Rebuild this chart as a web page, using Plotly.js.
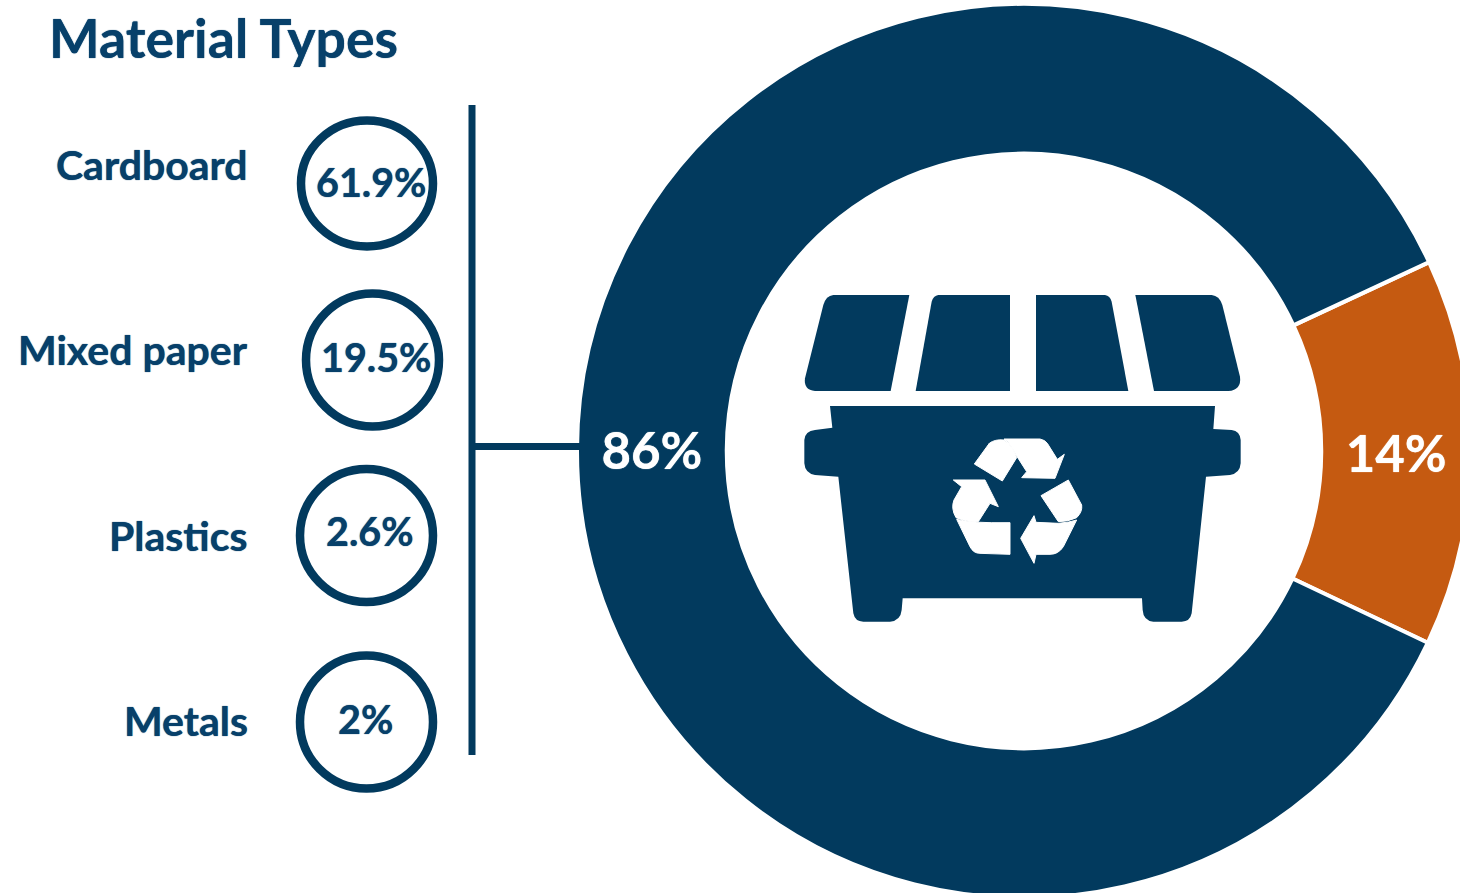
<!DOCTYPE html>
<html>
<head>
<meta charset="utf-8">
<script src="https://cdn.plot.ly/plotly-3.0.1.min.js"></script>
<style>html,body{margin:0;padding:0;background:#fff;overflow:hidden}#chart{width:1480px;height:900px}</style>
</head>
<body>
<div id="chart"></div>
<script>
const titleText = "Material Types";
const ringCategories = ["Other", "Listed materials"];
const ringValues = [14, 86];
const ringColors = ["#C55A11", "#023A5E"];
const materialCategories = ["Cardboard", "Mixed paper", "Plastics", "Metals"];
const materialValues = ["61.9%", "19.5%", "2.6%", "2%"];

const W = 1480, H = 900;
const NAVY = "#023A5E", TEXT = "#07406A";
const FONT = "Lato, Carlito, sans-serif";
const px = x => x / W, py = y => 1 - y / H;

// Layout positions (page pixels)
const CX = 1024, CY = 451, R = 447;
const labelY = [164, 350, 535, 720];
const circles = [[367,183.5,66,63],[372.5,360,66.5,66.5],[366.5,535.5,66.5,66.5],[366.5,722,66.5,66.5]];
const valuePos = [[371,182],[376,356],[370,530],[365,718]];
const textShadow = "0 0 1px #07406A";

// Icon outlines, drawn in zoomed-local coordinates
function mapPath(d, ox, oy, s) {
  return d.replace(/(-?[\d.]+),(-?[\d.]+)/g, (m, a, b) =>
    px(ox + a / s).toFixed(5) + "," + py(oy + b / s).toFixed(5));
}
const binPaths = [
  "M130,45 L358,45 L302,333 L75,333 Q40,330 45,295 L100,75 Q108,47 130,45 Z",
  "M445,45 L660,45 L660,333 L377,333 L425,65 Q430,47 445,45 Z",
  "M738,45 L945,45 Q960,47 965,65 L1015,333 L738,333 Z",
  "M1036,45 L1265,45 Q1288,47 1297,75 L1350,290 Q1355,330 1315,333 L1092,333 Z",
  "M120,378 L1275,378 L1270,447 L1325,450 Q1350,453 1352,480 L1352,550 Q1350,580 1320,585 L1248,590 L1205,1000 Q1200,1025 1175,1025 L1090,1025 Q1060,1022 1058,990 L1056,955 L338,955 L335,990 Q332,1022 300,1025 L220,1025 Q195,1025 190,1000 L145,590 L75,585 Q45,580 43,550 L43,480 Q45,453 75,450 L127,443 Z"
];
const recyclePaths = [
  "M133,117 L178,55 Q195,42 222,45 Q248,60 260,98 L217,168 Z",
  "M222,42 L330,42 Q345,45 352,55 L382,103 L403,88 L375,160 L275,158 L290,140 L255,85 Q240,55 222,42 Z",
  "M70,165 L165,165 L205,245 L180,235 L145,290 Q105,290 78,278 Q62,250 72,225 L95,185 Z",
  "M80,283 Q120,295 240,293 L240,388 L150,385 Q130,385 120,365 Z",
  "M333,212 L415,165 L455,240 Q458,260 440,278 Q415,290 385,290 Z",
  "M440,285 L400,365 Q385,388 360,388 L318,388 L312,415 L272,340 L312,272 L318,292 L385,295 Q420,292 440,285 Z"
];

const shapes = [];
binPaths.forEach(d => shapes.push({type:"path", xref:"paper", yref:"paper", path:mapPath(d,790,280,3), fillcolor:NAVY, line:{width:0}}));
recyclePaths.forEach(d => shapes.push({type:"path", xref:"paper", yref:"paper", path:mapPath(d,930,425,3), fillcolor:"#FFFFFF", line:{color:"#FFFFFF", width:1}}));
circles.forEach(c => shapes.push({type:"circle", xref:"paper", yref:"paper",
  x0:px(c[0]-c[2]), x1:px(c[0]+c[2]), y0:py(c[1]+c[3]), y1:py(c[1]-c[3]),
  line:{color:NAVY, width:8.5}, fillcolor:"rgba(0,0,0,0)"}));
shapes.push({type:"line", xref:"paper", yref:"paper", x0:px(472), x1:px(472), y0:py(105), y1:py(755), line:{color:NAVY, width:7}});
shapes.push({type:"line", xref:"paper", yref:"paper", x0:px(472), x1:px(585), y0:py(446.5), y1:py(446.5), line:{color:NAVY, width:7}});

const annotations = [];
annotations.push({text:titleText, xref:"paper", yref:"paper", x:px(47), y:py(37), xanchor:"left", yanchor:"middle",
  showarrow:false, font:{family:FONT, size:53.6, color:TEXT, weight:700, shadow:textShadow}});
materialCategories.forEach((t,i) => annotations.push({text:t, xref:"paper", yref:"paper", x:px(250), y:py(labelY[i]),
  xanchor:"right", yanchor:"middle", showarrow:false, font:{family:FONT, size:41, color:TEXT, weight:700, shadow:textShadow}}));
materialValues.forEach((t,i) => annotations.push({text:t, xref:"paper", yref:"paper", x:px(valuePos[i][0]), y:py(valuePos[i][1]),
  xanchor:"center", yanchor:"middle", showarrow:false, font:{family:FONT, size:39.5, color:TEXT, weight:700, shadow:textShadow}}));

const trace = {
  type:"pie", labels:ringCategories, values:ringValues, sort:false, direction:"clockwise", rotation:65,
  hole:0.665, marker:{colors:ringColors, line:{color:"#FFFFFF", width:4}},
  textinfo:"percent", textposition:"inside", insidetextorientation:"horizontal",
  textfont:{family:FONT, size:51, color:"#FFFFFF", weight:700, shadow:"0 0 1px #FFFFFF"},
  domain:{x:[(CX-R)/W,(CX+R)/W], y:[1-(CY+R)/H,1-(CY-R)/H]},
  showlegend:false, hoverinfo:"label+percent"
};

Plotly.newPlot("chart",[trace],{
  width:W, height:H, margin:{l:0,r:0,t:0,b:0}, paper_bgcolor:"#FFFFFF", plot_bgcolor:"#FFFFFF",
  showlegend:false, shapes, annotations
},{displayModeBar:false, staticPlot:true});
</script>
</body>
</html>
